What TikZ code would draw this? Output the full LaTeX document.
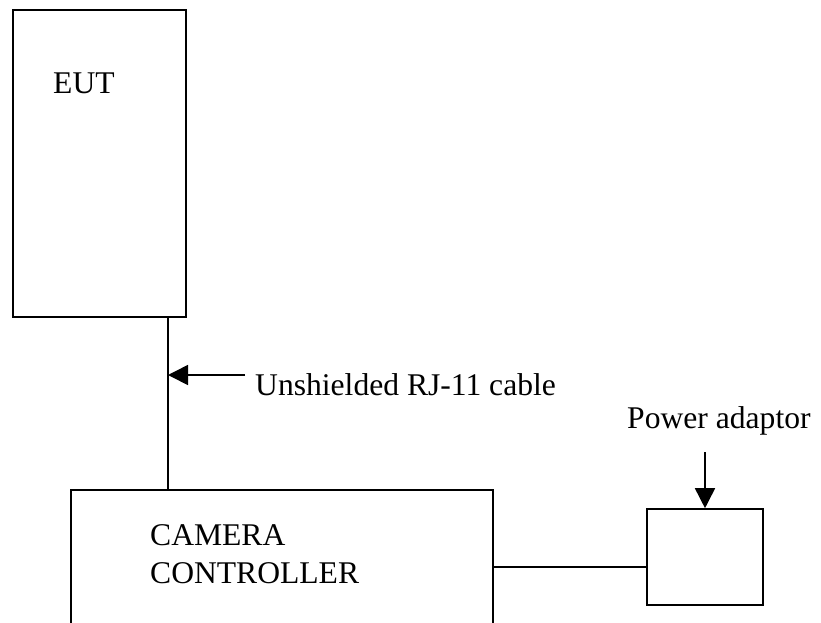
\documentclass[tikz,border=0pt]{standalone}
\usepackage{fontspec}
\setmainfont{Liberation Serif}
\usetikzlibrary{arrows.meta}
\begin{document}
\begin{tikzpicture}[x=1pt,y=-1pt,
  box/.style={draw,line width=1.6pt,fill=none},
  lbl/.style={font=\fontsize{31.6}{36}\selectfont,inner sep=0pt},
  wire/.style={line width=1.6pt},
  pointer/.style={line width=1.6pt,-{Triangle[length=20pt,width=20pt]}}]
\useasboundingbox (0,0) rectangle (821,622);
\clip (0,0) rectangle (821,622);
\draw[box] (13,10) rectangle (186,317);
\node[lbl,anchor=west] (eut) at (53,83) {EUT};
\coordinate (eutb) at (168,317);
\draw[box] (71,640) -- (71,490) -- (493,490) -- (493,640);
\coordinate (camt) at (168,490);
\coordinate (camr) at (493,567);
\node[lbl,anchor=west] (cam1) at (150,535) {CAMERA};
\node[lbl,anchor=west] (cam2) at (150,573) {CONTROLLER};
\node[box,minimum width=116pt,minimum height=96pt,inner sep=0pt] (pwr) at (705,557) {};
\draw[wire] (eutb) -- (camt);
\draw[wire] (camr) -- (pwr.west |- camr);
\coordinate (cablept) at (168,375);
\coordinate (arrstart) at (245,375);
\draw[pointer] (arrstart) -- (cablept);
\node[lbl,anchor=west] (cablelbl) at (255,385) {Unshielded RJ-11 cable};
\coordinate (parrstart) at (705,452);
\draw[pointer] (parrstart) -- (pwr.north);
\node[lbl,anchor=west] (pwrlbl) at (627,421) {Power adaptor};
\end{tikzpicture}
\end{document}
